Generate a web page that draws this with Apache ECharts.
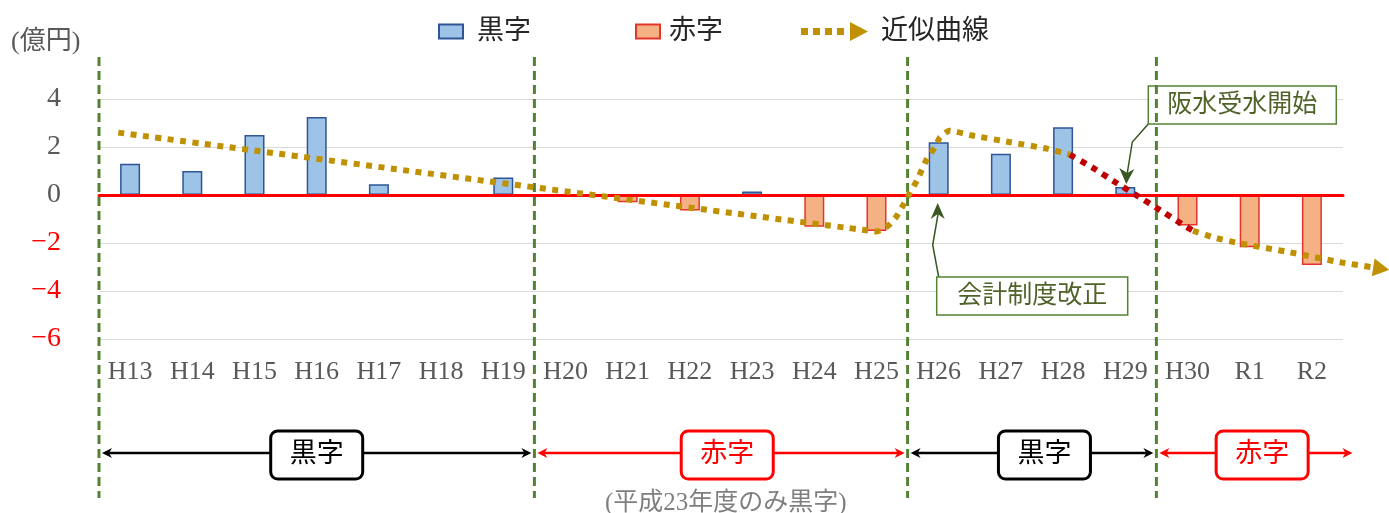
<!DOCTYPE html>
<html>
<head>
<meta charset="utf-8">
<title>黒字・赤字の推移</title>
<script src="https://cdn.jsdelivr.net/npm/echarts@6/dist/echarts.min.js"></script>
<style>
    html, body { margin: 0; padding: 0; background: #fff; }
    #chart { width: 1389px; height: 513px; }
</style>
</head>
<body>
<div id="chart"></div>
<script>
    // 年度
    const categories = ['H13', 'H14', 'H15', 'H16', 'H17', 'H18', 'H19', 'H20', 'H21', 'H22',
        'H23', 'H24', 'H25', 'H26', 'H27', 'H28', 'H29', 'H30', 'R1', 'R2']
    // 黒字（億円）
    const surplusValues = [1.3, 1.0, 2.5, 3.25, 0.45, 0, 0.73, null, null, null,
        0.15, null, null, 2.2, 1.72, 2.82, 0.33, null, null, null]
    // 赤字（億円）
    const deficitValues = [null, null, null, null, null, null, null, -0.05, -0.3, -0.65,
        null, -1.32, -1.5, null, null, null, null, -1.27, -2.18, -2.92]
    // 縦軸の目盛
    const yTicks = [-6, -4, -2, 0, 2, 4]

    // 近似曲線（横位置は年度の番号、最後の点は矢印の先）
    const trendX = [-0.19, 12.0, 12.19, 12.33, 12.44, 12.54, 12.65, 12.81, 12.94, 13.02, 13.17,
        13.54, 14.15, 14.76, 15.11, 15.48, 15.84, 16.19, 16.53, 16.91, 17.09,
        17.41, 17.81, 18.65, 19.45, 20.24]
    const trendY = [2.6, -1.52, -1.28, -0.86, -0.37, 0.11, 0.6, 1.5, 2.0, 2.4, 2.68,
        2.48, 2.2, 1.92, 1.68, 1.13, 0.53, -0.03, -0.58, -1.21, -1.49,
        -1.76, -2.0, -2.39, -2.8, -3.12]
    // 赤色で描く区間（阪水受水開始）
    const redFrom = 15.11
    const redTo = 17.09

    // 区切り線と期間
    const dividerAt = [-0.5, 6.5, 12.5, 16.5]
    const periodFrom = [-0.5, 6.5, 12.5, 16.5]
    const periodTo = [6.5, 12.5, 16.5, 19.7]
    const periodMid = [3.0, 9.6, 14.7, 18.2]
    const periodText = ['黒字', '赤字', '黒字', '赤字']

    const SERIF = '"Liberation Serif", "Noto Sans CJK JP", serif'
    const GOLD = '#BF9000'
    const DARK_RED = '#C00000'
    const GREEN = '#548235'

    const chartInstance = echarts.init(document.getElementById('chart'))

    const trendIcon = 'path://M0,6h7v7h-7z M12,6h7v7h-7z M24,6h7v7h-7z M36,6h7v7h-7z M49,0L67,9.5L49,19z'
    const legendText = {fontSize: 27, fontFamily: SERIF, color: '#262626'}
    const dotted = {lineWidth: 6, lineDash: [6, 6.5], lineCap: 'butt', fill: null}

    //近似曲線をまとめて描く（グリッドの外まで伸ばすため custom で描画）
    function renderTrend(params, api) {
        if (params.dataIndex !== 0) return null
        const n = trendX.length
        const pts = trendX.map((x, i) => api.coord([x, trendY[i]]))
        //矢印の根元まで線を引く
        const tip = pts[n - 1]
        const prev = pts[n - 2]
        const len = Math.hypot(tip[0] - prev[0], tip[1] - prev[1])
        const ux = (tip[0] - prev[0]) / len
        const uy = (tip[1] - prev[1]) / len
        const base = [tip[0] - ux * 16, tip[1] - uy * 16]
        const gold1 = [], gold2 = [], red = []
        trendX.forEach((x, i) => {
            const p = i === n - 1 ? base : pts[i]
            if (x <= redFrom) gold1.push(p)
            if (x >= redTo) gold2.push(p)
            if (x >= redFrom && x <= redTo) red.push(p)
        })
        return {
            type: 'group',
            children: [
                {type: 'polyline', shape: {points: gold1, smooth: 0.15}, style: Object.assign({stroke: GOLD}, dotted)},
                {type: 'polyline', shape: {points: gold2, smooth: 0.15}, style: Object.assign({stroke: GOLD}, dotted)},
                {type: 'polyline', shape: {points: red, smooth: 0.15}, style: Object.assign({stroke: DARK_RED}, dotted)},
                {
                    type: 'polygon',
                    shape: {
                        points: [tip,
                            [base[0] - uy * 9, base[1] + ux * 9],
                            [base[0] + uy * 9, base[1] - ux * 9]]
                    },
                    style: {fill: GOLD}
                }
            ]
        }
    }

    const option = {
        animation: false,
        title: [
            {
                text: '(億円)', left: 6, top: 24,
                textStyle: {fontSize: 26, fontWeight: 'normal', fontFamily: SERIF, color: '#595959'}
            },
            {
                text: '(平成23年度のみ黒字)', left: 600, top: 486,
                textStyle: {fontSize: 25, fontWeight: 'normal', fontFamily: SERIF, color: '#7F7F7F'}
            }
        ],
        legend: [
            {
                data: [{name: '黒字', icon: 'rect'}], left: 433, top: 13, selectedMode: false,
                itemWidth: 24, itemHeight: 14,
                textStyle: Object.assign({padding: [0, 0, 0, 9]}, legendText)
            },
            {
                data: [{name: '赤字', icon: 'rect'}], left: 630, top: 13, selectedMode: false,
                itemWidth: 24, itemHeight: 14,
                textStyle: Object.assign({padding: [0, 0, 0, 4]}, legendText)
            },
            {
                data: [{name: '近似曲線', icon: trendIcon}], left: 796, top: 13, selectedMode: false,
                itemWidth: 67, itemHeight: 19,
                textStyle: Object.assign({padding: [0, 0, 0, 8]}, legendText)
            }
        ],
        grid: {left: 99, right: 46, top: 99, bottom: 174},
        xAxis: [
            {
                type: 'category',
                data: categories,
                axisLine: {show: false, onZero: false},
                axisTick: {show: false},
                axisLabel: {color: '#595959', fontSize: 26, fontFamily: SERIF, margin: 20}
            },
            {
                type: 'value',
                min: -0.5,
                max: 19.5,
                position: 'bottom',
                z: 3,
                axisLine: {show: true, onZero: true, lineStyle: {color: '#FF0000', width: 3}},
                axisTick: {show: false},
                axisLabel: {show: false},
                splitLine: {show: false}
            }
        ],
        yAxis: {
            type: 'value',
            min: yTicks[0],
            max: yTicks[yTicks.length - 1],
            interval: yTicks[1] - yTicks[0],
            axisLine: {show: false},
            axisTick: {show: false},
            splitLine: {lineStyle: {color: '#D9D9D9', width: 1}},
            axisLabel: {
                fontSize: 28,
                fontFamily: SERIF,
                margin: 38,
                color: (v) => parseFloat(v) < 0 ? '#FF0000' : '#595959',
                formatter: (v) => v < 0 ? '\u2212' + (-v) : String(v)
            }
        },
        series: [
            {
                name: '黒字',
                type: 'bar',
                data: surplusValues,
                barWidth: 20,
                barGap: '-100%',
                itemStyle: {color: '#9DC3E6', borderColor: '#2F5597', borderWidth: 1.5}
            },
            {
                name: '赤字',
                type: 'bar',
                data: deficitValues,
                barWidth: 20,
                barGap: '-100%',
                itemStyle: {color: '#F4B183', borderColor: '#E3362B', borderWidth: 1.5}
            },
            {
                name: '近似曲線',
                type: 'custom',
                xAxisIndex: 1,
                z: 4,
                silent: true,
                itemStyle: {color: GOLD},
                data: trendX.map((x, i) => [x, trendY[i]]),
                renderItem: renderTrend
            },
            {
                //区切りの縦破線
                type: 'custom',
                xAxisIndex: 1,
                z: 3,
                silent: true,
                data: dividerAt.map(v => [v, 0]),
                renderItem: (params, api) => {
                    const x = api.coord([api.value(0), 0])[0]
                    return {
                        type: 'line',
                        shape: {x1: x, y1: 57, x2: x, y2: 498},
                        style: {stroke: GREEN, lineWidth: 3, lineDash: [9, 5]}
                    }
                }
            },
            {
                //期間の両矢印とラベル
                type: 'custom',
                xAxisIndex: 1,
                z: 5,
                silent: true,
                data: periodFrom.map((v, i) => [v, periodTo[i], periodMid[i]]),
                renderItem: (params, api) => {
                    const i = params.dataIndex
                    const color = periodText[i] === '赤字' ? '#FF0000' : '#000000'
                    const x1 = api.coord([api.value(0), 0])[0] + 3
                    const x2 = api.coord([api.value(1), 0])[0] - 3
                    const xm = api.coord([api.value(2), 0])[0]
                    const y = 453
                    return {
                        type: 'group',
                        children: [
                            {
                                type: 'line',
                                shape: {x1: x1 + 4, y1: y, x2: x2 - 4, y2: y},
                                style: {stroke: color, lineWidth: 2.5}
                            },
                            {
                                type: 'polygon',
                                shape: {points: [[x1, y], [x1 + 10, y - 5], [x1 + 7, y], [x1 + 10, y + 5]]},
                                style: {fill: color}
                            },
                            {
                                type: 'polygon',
                                shape: {points: [[x2, y], [x2 - 10, y - 5], [x2 - 7, y], [x2 - 10, y + 5]]},
                                style: {fill: color}
                            },
                            {
                                type: 'rect',
                                shape: {x: xm - 46, y: y - 22, width: 92, height: 48, r: 7},
                                style: {fill: '#fff', stroke: color, lineWidth: 3}
                            },
                            {
                                type: 'text',
                                x: xm,
                                y: y + 2,
                                style: {
                                    text: periodText[i], fill: color, fontSize: 27, fontFamily: SERIF,
                                    align: 'center', verticalAlign: 'middle'
                                }
                            }
                        ]
                    }
                }
            }
        ]
    }
    chartInstance.setOption(option)

    //注記（矢印と枠）
    const toPx = (cat, val) => chartInstance.convertToPixel({xAxisIndex: 0, yAxisIndex: 0}, [cat, val])
    const noteText = {fill: '#4F6228', fontSize: 25, fontFamily: SERIF, align: 'center', verticalAlign: 'middle'}
    const a = toPx('H26', 0)
    const b = toPx('H29', 0)
    chartInstance.setOption({
        graphic: [
            {
                type: 'polyline',
                shape: {points: [[a[0], a[1] + 82], [a[0] - 6, a[1] + 50], [a[0] - 0.5, a[1] + 18]]},
                style: {stroke: '#385723', lineWidth: 1.5, fill: null}
            },
            {
                type: 'polygon',
                shape: {points: [[a[0] - 1, a[1] + 8], [a[0] - 8, a[1] + 24], [a[0] - 1, a[1] + 19], [a[0] + 6, a[1] + 24]]},
                style: {fill: '#385723'}
            },
            {
                type: 'rect',
                shape: {x: a[0] - 2, y: a[1] + 82, width: 191, height: 38},
                style: {fill: '#fff', stroke: GREEN, lineWidth: 1.5}
            },
            {
                type: 'text', x: a[0] + 93.5, y: a[1] + 101,
                style: Object.assign({text: '会計制度改正'}, noteText)
            },
            {
                type: 'polyline',
                shape: {points: [[b[0] + 23, b[1] - 71], [b[0] + 7, b[1] - 53], [b[0] + 2, b[1] - 22]]},
                style: {stroke: '#385723', lineWidth: 1.5, fill: null}
            },
            {
                type: 'polygon',
                shape: {points: [[b[0] + 1, b[1] - 11], [b[0] - 6, b[1] - 27], [b[0] + 2, b[1] - 22], [b[0] + 9, b[1] - 26]]},
                style: {fill: '#385723'}
            },
            {
                type: 'rect',
                shape: {x: b[0] + 23, y: b[1] - 109, width: 188, height: 38},
                style: {fill: '#fff', stroke: GREEN, lineWidth: 1.5}
            },
            {
                type: 'text', x: b[0] + 117, y: b[1] - 90,
                style: Object.assign({text: '阪水受水開始'}, noteText)
            }
        ]
    })
</script>
</body>
</html>
